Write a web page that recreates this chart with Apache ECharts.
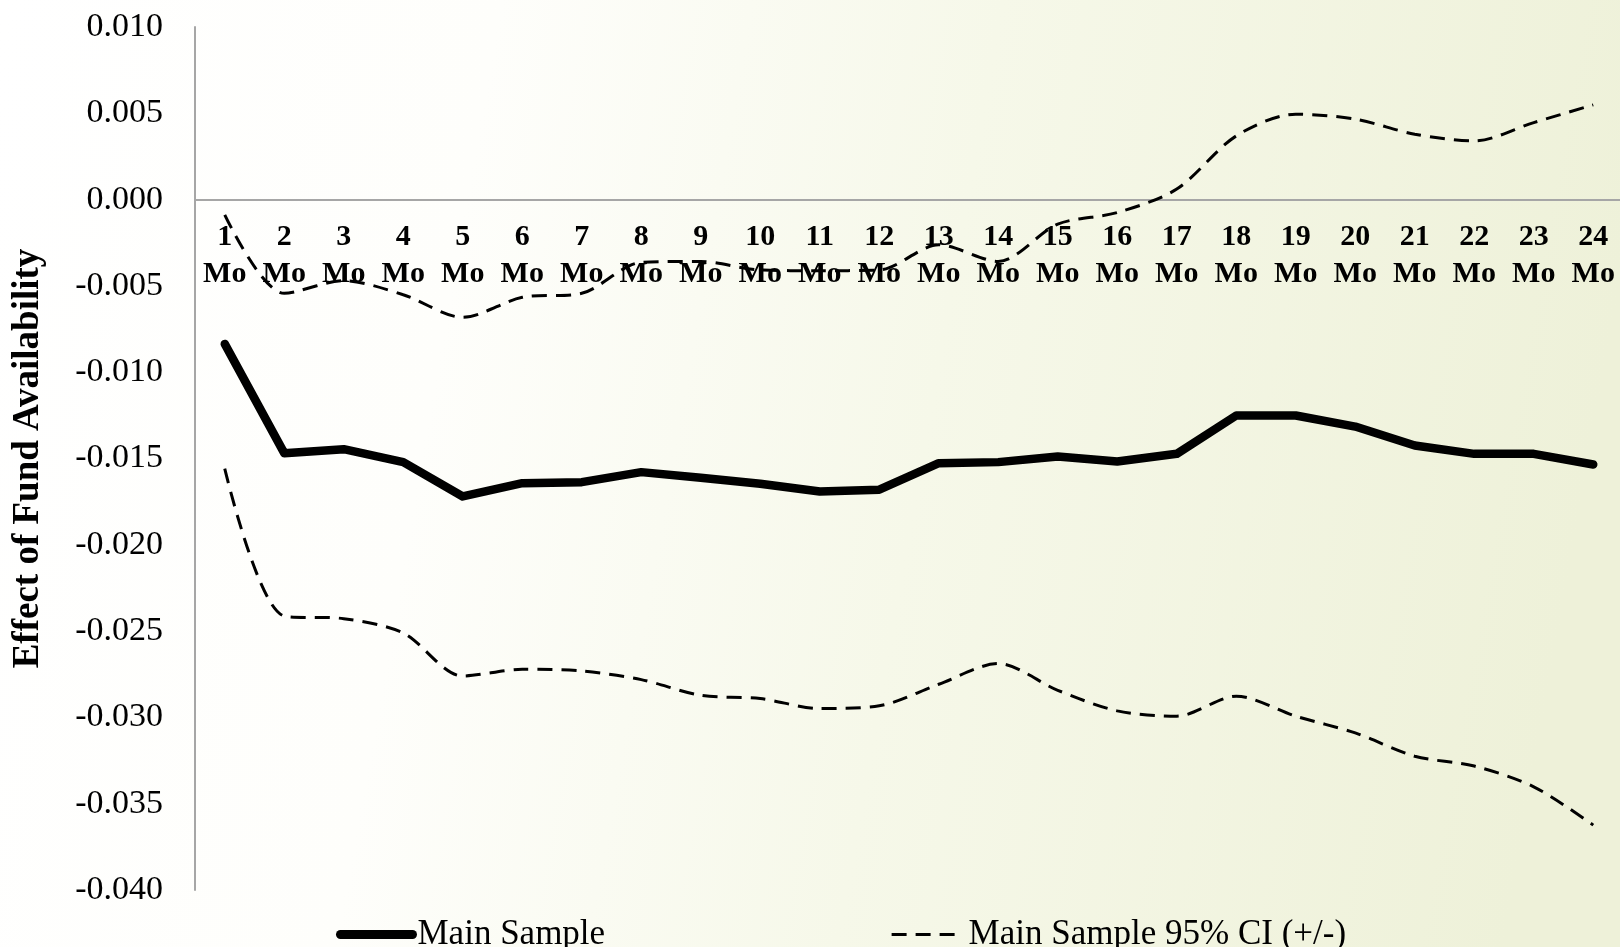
<!DOCTYPE html>
<html>
<head>
<meta charset="utf-8">
<script src="https://cdn.jsdelivr.net/npm/echarts@6/dist/echarts.min.js"></script>
<style>
html,body{margin:0;padding:0;background:#fff;}
#chart{width:1620px;height:947px;}
</style>
</head>
<body>
<div id="chart"></div>
<script>
const categories = ['1\nMo','2\nMo','3\nMo','4\nMo','5\nMo','6\nMo','7\nMo','8\nMo','9\nMo','10\nMo','11\nMo','12\nMo',
  '13\nMo','14\nMo','15\nMo','16\nMo','17\nMo','18\nMo','19\nMo','20\nMo','21\nMo','22\nMo','23\nMo','24\nMo'];
const mainSample = [-0.00836,-0.01469,-0.01446,-0.01521,-0.01720,-0.01643,-0.01637,-0.01579,-0.01612,-0.01646,-0.01691,-0.01681,
  -0.01527,-0.01521,-0.01488,-0.01517,-0.01473,-0.01251,-0.01251,-0.01315,-0.01425,-0.01473,-0.01473,-0.01535];
const ciUpper = [-0.00088,-0.00543,-0.00470,-0.00551,-0.00682,-0.00566,-0.00543,-0.00364,-0.00358,-0.00408,-0.00412,-0.00408,
  -0.00262,-0.00358,-0.00142,-0.00075,0.00061,0.00369,0.00495,0.00466,0.00379,0.00340,0.00446,0.00549];
const ciLower = [-0.01559,-0.02413,-0.02428,-0.02511,-0.02760,-0.02721,-0.02731,-0.02781,-0.02872,-0.02891,-0.02949,-0.02933,
  -0.02808,-0.02688,-0.02843,-0.02962,-0.02993,-0.02877,-0.02993,-0.03090,-0.03225,-0.03282,-0.03402,-0.03624];
const yTicks = {min:-0.04, max:0.01, interval:0.005};
const yTitle = 'Effect of Fund Availability';
const seriesNames = ['Main Sample','Main Sample 95% CI (+/-)'];

const chart = echarts.init(document.getElementById('chart'));
const serif = '"Liberation Serif", "DejaVu Serif", serif';
const dashStyle = {color:'#000', width:3, type:[15,9]};
const gridTop = 27, gridBottom = 57, H = 947;
const plotH = H - gridTop - gridBottom;
// place the category axis at value 0 via offset computed from the value scale
const zeroOffset = -plotH * (0 - yTicks.min) / (yTicks.max - yTicks.min);
chart.setOption({
  backgroundColor: {type:'linear', x:0, y:0, x2:1, y2:0.3, colorStops:[
    {offset:0, color:'#ffffff'},{offset:0.3, color:'#fefefb'},{offset:0.6, color:'#f6f8e9'},{offset:1, color:'#eef1d9'}]},
  animation:false,
  grid:{left:195, top:gridTop, right:-3, bottom:gridBottom, containLabel:false, outerBoundsMode:'none'},
  legend:{
    left:336, top:917, padding:0, itemGap:285, itemWidth:72, itemHeight:20,
    textStyle:{fontFamily:serif, fontSize:35, color:'#000'},
    data:[
      {name:seriesNames[0], itemStyle:{opacity:0}, lineStyle:{color:'#000', width:9, type:'solid', cap:'round'}},
      {name:seriesNames[1], itemStyle:{opacity:0}, lineStyle:{color:'#000', width:3, type:[15,9]}}
    ]
  },
  xAxis:{
    type:'category', data:categories, boundaryGap:true, position:'bottom', offset:zeroOffset,
    axisLine:{onZero:false, lineStyle:{color:'#a6a6a6', width:2}},
    axisTick:{show:false},
    axisLabel:{interval:0, margin:19, fontFamily:serif, fontWeight:'bold', fontSize:30, lineHeight:37, color:'#000'}
  },
  yAxis:{
    type:'value', min:yTicks.min, max:yTicks.max, interval:yTicks.interval,
    name:yTitle, nameLocation:'middle', nameGap:148,
    nameTextStyle:{fontFamily:serif, fontWeight:'bold', fontSize:37, color:'#000'},
    splitLine:{show:false},
    axisLine:{show:true, lineStyle:{color:'#a6a6a6', width:2}},
    axisTick:{show:false},
    axisLabel:{margin:32, fontFamily:serif, fontSize:34, color:'#000',
      formatter:v => v.toFixed(3)}
  },
  series:[
    {name:seriesNames[0], type:'line', data:mainSample, symbol:'none',
      lineStyle:{color:'#000', width:8.5, cap:'round', join:'round'}, itemStyle:{color:'#000'}, z:3},
    {name:seriesNames[1], type:'line', data:ciUpper, symbol:'none', smooth:0.3,
      lineStyle:dashStyle, itemStyle:{color:'#000'}, z:2},
    {name:seriesNames[1], type:'line', data:ciLower, symbol:'none', smooth:0.3,
      lineStyle:dashStyle, itemStyle:{color:'#000'}, z:2}
  ]
});
</script>
</body>
</html>
